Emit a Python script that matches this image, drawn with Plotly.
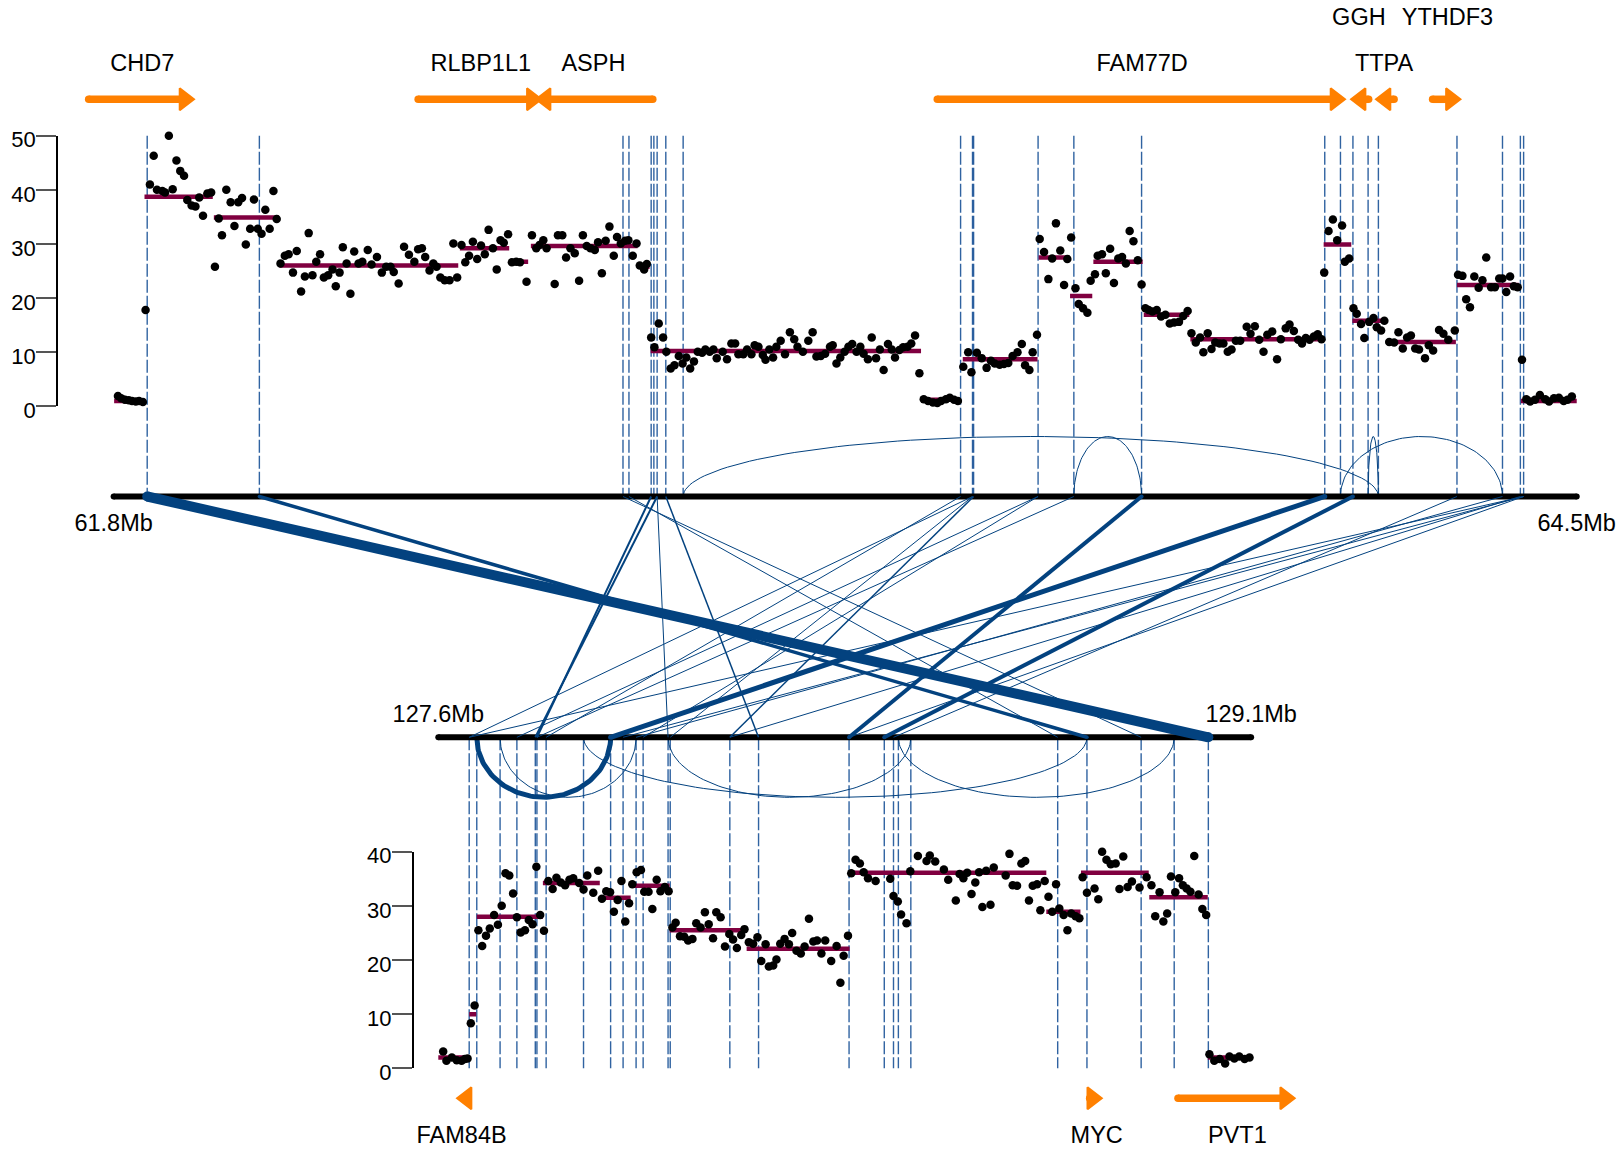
import math
import plotly.graph_objects as go

# ---------------------------------------------------------------
# chr8 amplicon: copy number of two linked regions and the
# structural-variant junctions that join them
# ---------------------------------------------------------------
TOP_REGION = (61.8, 64.5)        # Mb
BOTTOM_REGION = (127.6, 129.1)   # Mb
TOP_CN_TICKS = [0, 10, 20, 30, 40, 50]
BOTTOM_CN_TICKS = [0, 10, 20, 30, 40]

# probe-level copy number, upper region
TOP_PROBE_MB = [
    61.808, 61.814, 61.821, 61.828, 61.834, 61.841, 61.847, 61.854,
    61.859,
    61.867, 61.874, 61.880, 61.890, 61.895, 61.902, 61.909, 61.916, 61.923,
    61.930, 61.936, 61.944, 61.951, 61.958, 61.965, 61.973, 61.980, 61.987,
    61.994, 62.000, 62.008, 62.016, 62.023, 62.030, 62.037, 62.044, 62.052,
    62.059, 62.066, 62.073, 62.080, 62.088, 62.095, 62.101,
    62.108, 62.116, 62.123, 62.131, 62.138, 62.146, 62.153, 62.160, 62.167, 62.174,
    62.181, 62.188, 62.196, 62.204, 62.210, 62.217, 62.223, 62.230, 62.237, 62.244,
    62.252, 62.259, 62.269, 62.276, 62.286, 62.295, 62.303, 62.311, 62.317, 62.326,
    62.336, 62.345, 62.355, 62.362, 62.369, 62.375, 62.383, 62.390, 62.396, 62.403,
    62.411, 62.420, 62.427, 62.434,
    62.442, 62.449, 62.456, 62.463, 62.471, 62.478, 62.485, 62.492, 62.500, 62.507,
    62.514, 62.520, 62.528,
    62.535, 62.543, 62.550, 62.562,
    62.572, 62.580, 62.586, 62.593, 62.599,
    62.614, 62.620, 62.628, 62.635, 62.643, 62.651, 62.659, 62.666, 62.673, 62.680,
    62.688, 62.694, 62.701, 62.708, 62.715, 62.723, 62.729, 62.736, 62.744, 62.750,
    62.758, 62.765,
    62.771, 62.779, 62.784,
    62.792, 62.798, 62.806, 62.814, 62.820, 62.828, 62.835, 62.843, 62.850, 62.857,
    62.864, 62.871, 62.878, 62.886, 62.892, 62.900, 62.907, 62.913,
    62.924, 62.932, 62.940, 62.947, 62.953, 62.962, 62.969, 62.977, 62.983, 62.990,
    62.998, 63.003, 63.010, 63.017,
    63.023, 63.031, 63.039, 63.048, 63.056, 63.062, 63.072, 63.082, 63.090, 63.097,
    63.105, 63.113, 63.122, 63.127,
    63.134, 63.141, 63.149, 63.156, 63.163, 63.171, 63.178, 63.184, 63.192, 63.199,
    63.207, 63.214, 63.221, 63.229, 63.236, 63.242, 63.250, 63.257, 63.265, 63.272,
    63.279, 63.287,
    63.295, 63.303, 63.312, 63.320, 63.327, 63.336, 63.343, 63.351, 63.358,
    63.368, 63.377, 63.383, 63.393, 63.402, 63.411, 63.419, 63.426, 63.435, 63.443,
    63.451, 63.459, 63.468, 63.476, 63.482, 63.490, 63.496, 63.504,
    63.509, 63.517, 63.525, 63.532, 63.539, 63.547, 63.554, 63.560, 63.567,
    63.575, 63.581, 63.589, 63.597,
    63.603, 63.611, 63.616, 63.624, 63.631, 63.639, 63.646, 63.654, 63.661, 63.668,
    63.675, 63.682, 63.690, 63.697,
    63.704, 63.710, 63.717, 63.725, 63.733, 63.741, 63.749, 63.757, 63.766, 63.774,
    63.782,
    63.789, 63.797, 63.805, 63.811, 63.819, 63.826, 63.833, 63.841, 63.848, 63.856,
    63.863, 63.871, 63.879, 63.891, 63.898, 63.906, 63.914, 63.922, 63.929, 63.938,
    63.947, 63.954, 63.963, 63.970, 63.978, 63.986, 63.993, 64.000, 64.007, 64.015,
    64.022, 64.029,
    64.034, 64.042, 64.050, 64.058, 64.067, 64.072, 64.080,
    64.088, 64.094, 64.102, 64.108, 64.117, 64.125, 64.131, 64.139, 64.145,
    64.154, 64.163, 64.171, 64.179, 64.187, 64.194, 64.202, 64.209, 64.220, 64.227,
    64.235, 64.246, 64.254, 64.263, 64.275,
    64.281, 64.289, 64.296, 64.303, 64.311, 64.319, 64.326, 64.333, 64.342, 64.349,
    64.357, 64.363, 64.370, 64.377, 64.384, 64.391,
    64.399,
    64.407, 64.414, 64.423, 64.432, 64.442, 64.449, 64.458, 64.467, 64.476, 64.483,
    64.491,
]
TOP_PROBE_CN = [
    1.9, 1.5, 1.2, 1.1, 1.0, 0.9, 1.0, 0.8,
    17.8,
    41.0, 46.3, 40.0, 39.8, 39.5, 50.0, 40.1, 45.4, 43.5,
    42.6, 38.1, 37.1, 36.9, 38.6, 35.2, 39.3, 39.5, 25.8,
    34.7, 31.6, 40.0, 37.7, 33.3, 37.7, 38.5, 29.9, 32.8,
    38.2, 32.8, 31.9, 36.3, 32.8, 39.8, 34.6,
    26.4, 27.8, 28.1, 24.7, 28.7, 21.2, 24.0, 32.0, 24.2, 26.7,
    28.1, 23.8, 24.2, 25.3, 22.2, 24.7, 29.4, 26.4, 20.8, 28.6,
    26.4, 26.7, 28.9, 26.2, 27.6, 24.7, 25.8, 25.8, 24.8, 22.7,
    29.5, 28.0, 26.7, 29.0, 29.2, 27.6, 25.1, 26.4, 25.8, 23.8,
    23.3, 23.3, 30.1, 23.8,
    29.8, 26.6, 27.8, 30.4, 27.2, 29.7, 28.1, 32.6, 29.2, 25.3,
    30.7, 30.2, 31.8,
    26.6, 26.7, 26.6, 23.0,
    31.6, 29.2, 29.8, 30.7, 29.2,
    22.6, 31.6, 31.6, 27.5, 29.2, 28.3, 23.2, 31.6, 29.6, 29.2,
    28.9, 30.3, 24.6, 30.6, 33.2, 27.8, 31.3, 30.1, 30.6, 30.7,
    27.8, 30.1,
    26.0, 25.3, 26.3,
    12.7, 10.9, 15.3, 12.7, 10.1, 7.0, 7.6, 9.3, 7.9, 9.0,
    7.0, 8.3, 10.1, 9.9, 10.5, 10.1, 10.5, 8.9,
    10.1, 8.7, 11.6, 11.6, 9.6, 9.6, 10.5, 9.6, 11.3, 11.0,
    9.5, 8.6, 10.5, 9.0,
    11.0, 12.1, 9.6, 13.7, 12.4, 11.0, 10.1, 12.1, 13.7, 9.2,
    9.3, 9.7, 11.0, 11.3,
    7.9, 9.0, 10.1, 11.0, 11.5, 10.1, 11.0, 9.7, 8.7, 12.7,
    8.9, 10.5, 6.7, 11.5, 10.5, 9.0, 10.4, 10.9, 11.0, 11.6,
    13.1, 6.1,
    1.3, 1.0, 0.7, 0.6, 1.0, 1.3, 1.6, 1.2, 1.0,
    7.3, 10.0, 6.3, 9.9, 8.9, 7.1, 8.4, 7.9, 7.7, 7.8,
    8.0, 9.3, 10.0, 11.5, 7.6, 6.7, 10.0, 13.2,
    30.9, 28.5, 23.5, 27.3, 33.8, 28.8, 22.4, 27.2, 31.2,
    21.8, 18.9, 18.1, 17.3,
    23.2, 24.4, 27.8, 28.1, 24.6, 29.1, 22.8, 27.3, 27.6, 26.4,
    32.4, 30.5, 27.0, 22.5,
    18.1, 17.8, 17.5, 17.8, 16.6, 16.9, 15.3, 15.5, 15.6, 16.7,
    17.6,
    13.5, 11.8, 12.7, 10.0, 13.5, 10.6, 11.8, 11.6, 11.6, 10.1,
    10.5, 12.1, 12.1, 14.7, 13.4, 14.8, 12.3, 10.1, 13.2, 13.8,
    8.7, 12.4, 14.4, 15.1, 13.9, 12.3, 11.6, 12.6, 12.3, 12.9,
    13.3, 12.4,
    24.7, 32.4, 34.5, 30.7, 33.4, 26.7, 27.3,
    18.1, 17.1, 15.2, 12.6, 15.6, 16.3, 14.6, 14.0, 15.8,
    11.9, 11.8, 13.7, 10.7, 12.7, 13.1, 10.7, 10.5, 8.9, 11.3,
    10.3, 14.1, 13.4, 12.3, 14.0,
    24.3, 24.1, 19.8, 18.3, 24.0, 21.9, 23.3, 27.5, 22.0, 22.0,
    23.6, 23.6, 21.1, 24.0, 22.2, 22.0,
    8.6,
    1.3, 0.9, 1.2, 2.1, 1.3, 0.9, 1.5, 1.6, 1.0, 1.2,
    1.8,
]

# probe-level copy number, lower region
BOTTOM_PROBE_MB = [
    127.609, 127.615, 127.625, 127.634, 127.643, 127.649, 127.654,
    127.660, 127.667,
    127.674, 127.681, 127.688, 127.695, 127.703, 127.710, 127.717, 127.724, 127.731,
    127.738, 127.745, 127.752, 127.760, 127.767, 127.774, 127.781, 127.788, 127.795,
    127.803, 127.811, 127.818, 127.826, 127.834, 127.842, 127.849, 127.860, 127.868,
    127.875, 127.886, 127.895,
    127.902, 127.910, 127.917, 127.924, 127.931, 127.938, 127.945, 127.952,
    127.958, 127.966, 127.974, 127.980, 127.988, 127.995, 128.003, 128.010, 128.018,
    128.025,
    128.032, 128.038, 128.046, 128.054, 128.061, 128.069, 128.076, 128.084, 128.092,
    128.099, 128.107, 128.113, 128.121, 128.129, 128.137, 128.144, 128.151, 128.159,
    128.165,
    128.173, 128.181, 128.189, 128.196, 128.204, 128.210, 128.218, 128.224, 128.231,
    128.239, 128.247, 128.253, 128.261, 128.269, 128.276, 128.284, 128.292, 128.299,
    128.307, 128.314, 128.325, 128.335, 128.342, 128.348, 128.356,
    128.362, 128.370, 128.378, 128.385, 128.393, 128.407, 128.413, 128.421, 128.427,
    128.434, 128.440, 128.448, 128.454, 128.464, 128.471, 128.479, 128.485, 128.493,
    128.501, 128.507, 128.517, 128.525, 128.533, 128.541, 128.548, 128.555, 128.562,
    128.569, 128.576, 128.584, 128.591, 128.598, 128.604, 128.611, 128.619, 128.625,
    128.633, 128.640, 128.647, 128.654, 128.660, 128.668, 128.676, 128.683, 128.690,
    128.697, 128.705, 128.711, 128.719,
    128.726, 128.733, 128.740, 128.746, 128.754, 128.761, 128.768, 128.776, 128.783,
    128.789, 128.797, 128.804, 128.811, 128.818, 128.825, 128.833, 128.841, 128.850,
    128.857, 128.864, 128.872, 128.880, 128.887, 128.894, 128.901, 128.907,
    128.916, 128.923, 128.931, 128.938, 128.945, 128.952, 128.960, 128.967, 128.974,
    128.981, 128.988, 128.995, 129.003, 129.010, 129.017,
    129.023, 129.032, 129.042, 129.052, 129.060, 129.069, 129.078, 129.088, 129.097,
]
BOTTOM_PROBE_CN = [
    3.1, 1.4, 2.0, 1.5, 1.4, 1.7, 1.8,
    8.3, 11.6,
    25.5, 22.6, 24.5, 25.8, 28.3, 26.5, 30.0, 36.0, 35.6,
    32.3, 27.9, 25.1, 25.5, 27.4, 26.6, 37.2, 28.3, 25.4,
    34.6, 33.1, 35.2, 34.3, 33.8, 34.8, 35.1, 34.2, 33.0,
    35.6, 32.4, 36.5,
    31.3, 32.7, 32.5, 28.9, 31.1, 34.6, 27.1, 30.5,
    34.0, 36.2, 36.6, 32.6, 32.6, 29.4, 34.8, 32.7, 33.5,
    32.7,
    26.0, 26.9, 24.4, 24.3, 23.6, 23.9, 26.8, 26.0, 28.8,
    26.6, 24.0, 28.8, 27.9, 22.5, 24.8, 23.8, 22.2, 24.6,
    25.7,
    23.3, 23.0, 24.2, 19.8, 22.9, 18.8, 19.0, 20.1, 23.0,
    23.9, 22.9, 25.0, 21.7, 21.2, 22.5, 27.6, 23.4, 23.6,
    21.2, 23.6, 19.8, 22.6, 15.8, 20.8, 24.5,
    36.0, 38.5, 37.8, 36.2, 35.1, 34.6, 40.2, 40.2, 41.8,
    35.0, 31.8, 30.8, 28.4, 26.8, 36.4, 42.9, 39.2, 45.7,
    38.3, 39.3, 38.2, 40.4, 36.7, 34.8, 43.4, 31.0, 35.9,
    35.1, 36.1, 32.2, 34.3, 36.2, 29.8, 36.5, 30.2, 37.1,
    40.2, 40.6, 35.6, 39.6, 33.8, 33.7, 37.8, 38.3, 31.0,
    33.7, 34.0, 29.2, 34.6,
    31.7, 28.9, 34.0, 29.5, 28.3, 25.5, 28.6, 28.1, 27.7,
    35.3, 32.4, 42.6, 33.2, 31.2, 40.0, 38.5, 37.7, 37.8,
    33.1, 39.1, 33.5, 34.5, 40.1, 33.4, 45.1, 35.3,
    33.8, 28.1, 32.5, 27.1, 28.6, 35.4, 32.5, 35.1, 33.8,
    33.2, 32.6, 39.2, 32.1, 29.4, 28.3,
    2.6, 1.4, 1.7, 0.9, 2.2, 1.8, 2.2, 1.7, 2.0,
]

# segmented copy number (start Mb, end Mb, level)
TOP_SEG_START = [61.801, 61.857, 61.985, 62.106, 62.439, 62.532, 62.570, 62.769, 62.791, 63.292,
                 63.367, 63.507, 63.565, 63.608, 63.701, 63.787, 64.033, 64.086, 64.150, 64.279,
                 64.397]
TOP_SEG_END = [61.857, 61.983, 62.105, 62.436, 62.530, 62.565, 62.767, 62.789, 63.290, 63.361,
               63.505, 63.564, 63.606, 63.699, 63.785, 64.031, 64.084, 64.149, 64.277, 64.393,
               64.500]
TOP_SEG_CN = [1.0, 38.7, 34.9, 26.0, 29.2, 26.7, 29.6, 25.8, 10.2, 1.2,
              8.7, 27.5, 20.4, 26.7, 16.9, 12.4, 29.9, 15.8, 11.9, 22.4,
              1.0]
BOTTOM_SEG_START = [127.600, 127.657, 127.671, 127.793, 127.899, 127.957, 128.027, 128.169,
                    128.359, 128.722, 128.786, 128.912, 129.020]
BOTTOM_SEG_END = [127.657, 127.670, 127.793, 127.898, 127.955, 128.027, 128.169, 128.359,
                  128.722, 128.785, 128.911, 129.020, 129.100]
BOTTOM_SEG_CN = [2.0, 10.0, 28.0, 34.2, 31.5, 33.7, 25.5, 22.1, 36.1, 28.9, 36.1, 31.6, 2.0]

# breakpoints (Mb)
TOP_BREAKS = [61.862, 62.069, 62.740, 62.751, 62.792, 62.797, 62.803, 62.819, 62.851,
              63.363, 63.385, 63.387, 63.506, 63.572, 63.697, 64.035, 64.064, 64.087,
              64.115, 64.134, 64.279, 64.363, 64.396, 64.402]
BOTTOM_BREAKS = [127.657, 127.671, 127.714, 127.745, 127.779, 127.782, 127.799, 127.868,
                 127.918, 127.941, 127.965, 127.978, 128.024, 128.028, 128.138, 128.191,
                 128.358, 128.423, 128.440, 128.449, 128.472, 128.743, 128.797, 128.897,
                 128.958, 129.021]

# intra-region junctions (arcs) and their line widths
TOP_ARC_START = [62.851, 63.572, 64.064, 64.115]
TOP_ARC_END = [64.134, 63.697, 64.363, 64.134]
TOP_ARC_WIDTH = [1, 1, 1, 1]
BOTTOM_ARC_START = [127.671, 127.714, 127.868, 128.024, 128.449]
BOTTOM_ARC_END = [127.918, 127.965, 128.797, 128.472, 128.958]
BOTTOM_ARC_WIDTH = [5, 1, 1, 1, 1]

# inter-region junctions: upper Mb -> lower Mb, line width
LINK_TOP = [61.862, 62.069, 62.792, 62.803, 62.803, 62.819, 62.740, 62.751,
            63.363, 63.385, 63.387, 63.385, 63.506, 63.506, 63.572,
            63.697, 64.035, 64.087, 64.279, 64.402, 64.402, 64.396, 64.402, 64.363]
LINK_BOTTOM = [129.021, 128.797, 127.782, 127.779, 128.024, 128.191, 128.897, 128.743,
               127.799, 127.657, 128.138, 128.028, 127.745, 127.978, 127.782,
               128.358, 127.918, 128.423, 128.440, 127.657, 127.941, 128.138, 128.358, 127.965]
LINK_WIDTH = [10, 3.5, 2, 2, 1, 1.5, 1, 1,
              1, 1, 1.5, 1, 1, 1, 1,
              4, 5, 4, 1, 1, 1, 1, 1, 1]

# genes: name, start, end (Mb), strand, region, label row
GENE_NAME = ["CHD7", "RLBP1L1", "ASPH", "FAM77D", "GGH", "TTPA", "YTHDF3",
             "FAM84B", "MYC", "PVT1"]
GENE_START = [61.754, 62.362, 62.576, 63.320, 64.080, 64.126, 64.234,
              127.631, 128.802, 128.965]
GENE_END = [61.952, 62.593, 62.795, 64.076, 64.116, 64.163, 64.289,
            127.655, 128.828, 129.184]
GENE_STRAND = ["+", "+", "-", "+", "-", "-", "+", "-", "+", "+"]
GENE_REGION = ["top"] * 7 + ["bottom"] * 3
GENE_ROW = [1, 1, 1, 1, 2, 1, 2, 1, 1, 1]

assert len(TOP_PROBE_MB) == len(TOP_PROBE_CN)
assert len(BOTTOM_PROBE_MB) == len(BOTTOM_PROBE_CN)

# ---------------------------------------------------------------
# page geometry (pixels)
# ---------------------------------------------------------------
W, H = 1621, 1152
PX_PER_MB = 541.9
TOP_X0_PX = 113.6          # where the upper region starts
BOTTOM_X0_PX = 438.3       # where the lower region starts
# the lower track is drawn on the same x scale, shifted
BOTTOM_SHIFT = (BOTTOM_REGION[0] - TOP_REGION[0]) - (BOTTOM_X0_PX - TOP_X0_PX) / PX_PER_MB

TOP_CHR_Y = 496.5
BOTTOM_CHR_Y = 737.3
ARC_DEPTH = 60
TOP_CN_Y = (406.3, 135.7)      # rows of CN 0 and CN 50
BOTTOM_CN_Y = (1068.3, 851.7)  # rows of CN 0 and CN 40
TOP_GENE_Y = 99.3
TOP_LABEL_Y = {1: 65, 2: 19}
BOTTOM_GENE_Y = 1098.3
BOTTOM_LABEL_Y = 1137

FONT = "Liberation Sans, Arial, sans-serif"
LABEL_SIZE = 23.5
BLACK = "#000000"
JUNCTION = "#03427f"
BREAK_LINE = "rgba(12,72,145,0.85)"
SEGMENT = "#800040"
GENE = "#ff8000"


def bx(mb):
    """Lower-region position on the shared x axis."""
    return mb - BOTTOM_SHIFT


def half_ellipse(x0, x1, base, depth, n=80):
    c, r = (x0 + x1) / 2, (x1 - x0) / 2
    xs, ys = [], []
    for i in range(n + 1):
        t = math.pi * i / n
        xs.append(c - r * math.cos(t))
        ys.append(base + depth * math.sin(t))
    return xs, ys


fig = go.Figure()

# vertical breakpoint guides
vx, vy = [], []
for b in TOP_BREAKS:
    vx += [b, b, None]
    vy += [TOP_CN_Y[1], TOP_CHR_Y, None]
for b in BOTTOM_BREAKS:
    vx += [bx(b), bx(b), None]
    vy += [BOTTOM_CHR_Y, BOTTOM_CN_Y[0], None]
fig.add_trace(go.Scatter(x=vx, y=vy, mode="lines", hoverinfo="skip",
                         line=dict(color=BREAK_LINE, width=1.4, dash="13px,3px")))

# arcs above the upper chromosome line
for s, e, w in zip(TOP_ARC_START, TOP_ARC_END, TOP_ARC_WIDTH):
    xs, ys = half_ellipse(s, e, TOP_CHR_Y, -ARC_DEPTH)
    fig.add_trace(go.Scatter(x=xs, y=ys, mode="lines", hoverinfo="skip",
                             line=dict(color=JUNCTION, width=w)))
# arcs below the lower chromosome line
for s, e, w in zip(BOTTOM_ARC_START, BOTTOM_ARC_END, BOTTOM_ARC_WIDTH):
    xs, ys = half_ellipse(bx(s), bx(e), BOTTOM_CHR_Y, ARC_DEPTH)
    fig.add_trace(go.Scatter(x=xs, y=ys, mode="lines", hoverinfo="skip",
                             line=dict(color=JUNCTION, width=w)))

# chromosome lines
for (a, b), y, f in ((TOP_REGION, TOP_CHR_Y, lambda v: v),
                     (BOTTOM_REGION, BOTTOM_CHR_Y, bx)):
    fig.add_trace(go.Scatter(x=[f(a), f(b)], y=[y, y], mode="lines+markers",
                             hoverinfo="skip", line=dict(color=BLACK, width=6),
                             marker=dict(color=BLACK, size=6)))

# junctions between the two regions
for t, b, w in sorted(zip(LINK_TOP, LINK_BOTTOM, LINK_WIDTH), key=lambda r: r[2]):
    fig.add_trace(go.Scatter(x=[t, bx(b)], y=[TOP_CHR_Y, BOTTOM_CHR_Y],
                             mode="lines+markers" if w >= 3 else "lines",
                             hoverinfo="skip", line=dict(color=JUNCTION, width=w),
                             marker=dict(color=JUNCTION, size=w)))

# region end labels
fig.add_trace(go.Scatter(
    x=[TOP_REGION[0], TOP_REGION[1], bx(BOTTOM_REGION[0]), bx(BOTTOM_REGION[1])],
    y=[525, 525, 716, 716], mode="text", hoverinfo="skip",
    text=[f"{TOP_REGION[0]}Mb", f"{TOP_REGION[1]}Mb",
          f"{BOTTOM_REGION[0]}Mb", f"{BOTTOM_REGION[1]}Mb"],
    textfont=dict(family=FONT, size=LABEL_SIZE, color=BLACK)))

# genes: shaft, arrow head, name
HEAD_TIP_PX = 11.5
for name, s, e, strand, region, row in zip(GENE_NAME, GENE_START, GENE_END,
                                           GENE_STRAND, GENE_REGION, GENE_ROW):
    f = (lambda v: v) if region == "top" else bx
    y = TOP_GENE_Y if region == "top" else BOTTOM_GENE_Y
    ly = TOP_LABEL_Y[row] if region == "top" else BOTTOM_LABEL_Y
    x0, x1 = f(s), f(e)
    if strand == "+":
        tip, tail, sym, d = x1, x0, "triangle-right", 1
    else:
        tip, tail, sym, d = x0, x1, "triangle-left", -1
    head_c = tip - d * HEAD_TIP_PX / PX_PER_MB
    shaft_end = tip - d * 10 / PX_PER_MB
    if abs(shaft_end - tail) * PX_PER_MB > 4:
        fig.add_trace(go.Scatter(x=[tail, shaft_end], y=[y, y], mode="lines",
                                 hoverinfo="skip", line=dict(color=GENE, width=7.5)))
        fig.add_trace(go.Scatter(x=[tail], y=[y], mode="markers", hoverinfo="skip",
                                 marker=dict(color=GENE, size=7.5)))
    fig.add_trace(go.Scatter(x=[head_c], y=[y], mode="markers", hoverinfo="skip",
                             marker=dict(symbol=sym, color=GENE, size=19,
                                         line=dict(color=GENE, width=2))))
    fig.add_trace(go.Scatter(x=[(x0 + x1) / 2], y=[ly], mode="text", text=[name],
                             hoverinfo="skip",
                             textfont=dict(family=FONT, size=LABEL_SIZE, color=BLACK)))

# copy number panels: segments then probes
sx, sy = [], []
for a, b, v in zip(TOP_SEG_START, TOP_SEG_END, TOP_SEG_CN):
    sx += [a, b, None]
    sy += [v, v, None]
fig.add_trace(go.Scatter(x=sx, y=sy, mode="lines", yaxis="y2", cliponaxis=False,
                         hoverinfo="skip", line=dict(color=SEGMENT, width=4.5)))
fig.add_trace(go.Scatter(x=TOP_PROBE_MB, y=TOP_PROBE_CN, mode="markers", yaxis="y2",
                         cliponaxis=False, marker=dict(color=BLACK, size=8.5)))

sx, sy = [], []
for a, b, v in zip(BOTTOM_SEG_START, BOTTOM_SEG_END, BOTTOM_SEG_CN):
    sx += [bx(a), bx(b), None]
    sy += [v, v, None]
fig.add_trace(go.Scatter(x=sx, y=sy, mode="lines", yaxis="y3", cliponaxis=False,
                         hoverinfo="skip", line=dict(color=SEGMENT, width=4.5)))
fig.add_trace(go.Scatter(x=[bx(m) for m in BOTTOM_PROBE_MB], y=BOTTOM_PROBE_CN,
                         mode="markers", yaxis="y3", cliponaxis=False,
                         marker=dict(color=BLACK, size=8.5)))

x_left = TOP_REGION[0] - TOP_X0_PX / PX_PER_MB
x_right = TOP_REGION[0] + (W - TOP_X0_PX) / PX_PER_MB


def cn_axis(domain_rows, top_value, ticks, x_px):
    return dict(
        domain=[1 - domain_rows[0] / H, 1 - domain_rows[1] / H],
        range=[0, top_value], anchor="free", position=x_px / W,
        tickvals=ticks, ticks="outside", ticklen=20, tickwidth=1.5,
        tickcolor="#555555", showline=True, linecolor=BLACK, linewidth=1.5,
        showgrid=False, zeroline=False, automargin=False,
        ticklabelstandoff=-4, ticklabelshift=4,
        tickfont=dict(family=FONT, size=22, color=BLACK),
    )


fig.update_layout(
    width=W, height=H,
    margin=dict(l=0, r=0, t=0, b=0, pad=0, autoexpand=False),
    paper_bgcolor="white", plot_bgcolor="rgba(0,0,0,0)",
    showlegend=False,
    xaxis=dict(range=[x_left, x_right], domain=[0, 1], visible=False,
               fixedrange=True, automargin=False),
    yaxis=dict(range=[H, 0], domain=[0, 1], visible=False,
               fixedrange=True, automargin=False),
    yaxis2=cn_axis(TOP_CN_Y, 50, TOP_CN_TICKS, 57),
    yaxis3=cn_axis(BOTTOM_CN_Y, 40, BOTTOM_CN_TICKS, 412.7),
)

fig.write_html("out.html")
